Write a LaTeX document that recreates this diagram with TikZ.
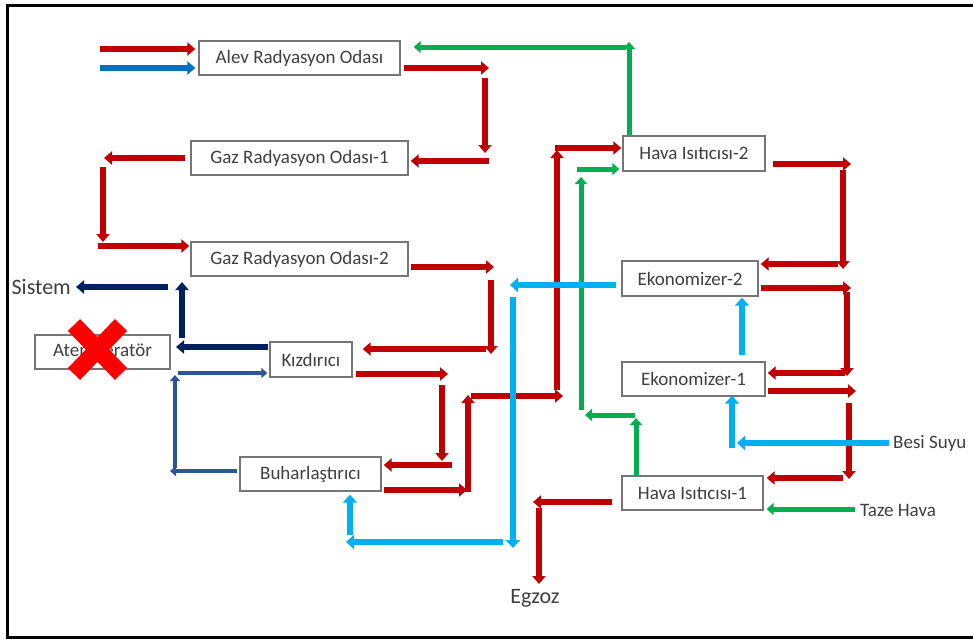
\documentclass[tikz,border=0pt]{standalone}
\usepackage{fontspec}
\setmainfont{Carlito}
\usetikzlibrary{arrows.meta}
\definecolor{cred}{HTML}{C00000}
\definecolor{cblue}{HTML}{0070C0}
\definecolor{cgreen}{HTML}{00B050}
\definecolor{clblue}{HTML}{00B0F0}
\definecolor{cnavy}{HTML}{002060}
\definecolor{cmblue}{HTML}{2F5597}
\definecolor{cxred}{HTML}{FF0000}
\definecolor{boxgray}{HTML}{767676}
\definecolor{txtgray}{HTML}{3F3F3F}
\tikzset{
  box/.style={draw=boxgray, line width=1.4pt, fill=white, text=txtgray,
    font=\fontsize{19}{22}\selectfont, inner sep=0pt, minimum height=34pt},
  lbl/.style={text=txtgray, font=\fontsize{19}{22}\selectfont, inner sep=0pt},
  biglbl/.style={text=txtgray, font=\fontsize{22}{26}\selectfont, inner sep=0pt},
  rarr/.style={draw=cred, line width=6pt, -{Triangle[length=8pt,width=13pt]}},
  barr/.style={draw=cblue, line width=6pt, -{Triangle[length=8pt,width=13pt]}},
  garr/.style={draw=cgreen, line width=5pt, -{Triangle[length=7pt,width=12pt]}},
  larr/.style={draw=clblue, line width=6.5pt, -{Triangle[length=8pt,width=14pt]}},
  narr/.style={draw=cnavy, line width=6pt, -{Triangle[length=8pt,width=13pt]}},
  marr/.style={draw=cmblue, line width=4pt, -{Triangle[length=6pt,width=10pt]}},
}
\begin{document}
\begin{tikzpicture}[x=1pt,y=-1pt]
\useasboundingbox (0,0) rectangle (973,641);
\fill[white] (0,0) rectangle (973,641);

% boxes
\node[box, minimum width=201pt] (alev)  at (299.5,58)   {Alev Radyasyon Odası};
\node[box, minimum width=217pt] (gaz1)  at (299.5,158)  {Gaz Radyasyon Odası-1};
\node[box, minimum width=217pt] (gaz2)  at (299.5,259)  {Gaz Radyasyon Odası-2};
\node[box, minimum width=135pt] (atem)  at (102.5,352)  {Atemperatör};
\node[box, minimum width=82pt, minimum height=35pt] (kiz) at (311,359.5) {Kızdırıcı};
\node[box, minimum width=141pt] (buh)   at (310.5,474)  {Buharlaştırıcı};
\node[box, minimum width=142pt, minimum height=35pt] (hava2) at (694,153.5) {Hava Isıtıcısı-2};
\node[box, minimum width=136pt, minimum height=35pt] (eko2)  at (690,278.5) {Ekonomizer-2};
\node[box, minimum width=143pt] (eko1)  at (693.5,379)  {Ekonomizer-1};
\node[box, minimum width=141pt] (hava1) at (692.5,493)  {Hava Isıtıcısı-1};

% labels
\node[biglbl, anchor=east] (sistem) at (71,287) {Sistem};
\node[lbl, anchor=west] (besi) at (893,443) {Besi Suyu};
\node[lbl, anchor=west] (taze) at (860,510) {Taze Hava};
\node[biglbl] (egzoz) at (535,598) {Egzoz};

% free points
\coordinate (r1a) at (100,49);
\coordinate (b1a) at (100,68);
\coordinate (r2b) at (489,68);
\coordinate (r3a) at (485,78);  \coordinate (r3b) at (485,153);
\coordinate (r4a) at (489,161);
\coordinate (r5b) at (104,158);
\coordinate (r6a) at (103,167); \coordinate (r6b) at (103,242);
\coordinate (r7a) at (98,246);
\coordinate (r8b) at (494,267);
\coordinate (r9a) at (491,280); \coordinate (r9b) at (491,354);
\coordinate (r10a) at (486,349);
\coordinate (r11b) at (448,374);
\coordinate (r12a) at (442,385); \coordinate (r12b) at (442,461);
\coordinate (r13a) at (452,465);
\coordinate (r14b) at (467,490);
\coordinate (r15a) at (468,492); \coordinate (r15b) at (468,395);
\coordinate (r16a) at (471,396); \coordinate (r16b) at (563,396);
\coordinate (r17a) at (557,390); \coordinate (r17b) at (557,150);
\coordinate (r18a) at (555,148);
\coordinate (r19b) at (851,164);
\coordinate (r20a) at (843,170); \coordinate (r20b) at (843,269);
\coordinate (r21a) at (838,264);
\coordinate (r22b) at (851,288);
\coordinate (r23a) at (847,292); \coordinate (r23b) at (847,376);
\coordinate (r24a) at (845,373);
\coordinate (r25b) at (856,391);
\coordinate (r26a) at (849,403); \coordinate (r26b) at (849,479);
\coordinate (r27a) at (843,478);
\coordinate (r28b) at (533,502);
\coordinate (r29a) at (539,508); \coordinate (r29b) at (539,584);
\coordinate (g1b) at (629,42);
\coordinate (g2a) at (626,47);
\coordinate (g3a) at (855,509);
\coordinate (g4b) at (636,418);
\coordinate (g5a) at (635,415); \coordinate (g5b) at (585,415);
\coordinate (g6a) at (581,410); \coordinate (g6b) at (581,177);
\coordinate (g7a) at (577,169);
\coordinate (l1a) at (889,443); \coordinate (l1b) at (737,443);
\coordinate (l2a) at (732,448);
\coordinate (l4b) at (510,285);
\coordinate (l5a) at (513,297); \coordinate (l5b) at (513,548);
\coordinate (l6a) at (503,542); \coordinate (l6b) at (346,542);
\coordinate (l7a) at (350,535);
\coordinate (n1b) at (176,347);
\coordinate (n2a) at (182,338); \coordinate (n2b) at (182,282);
\coordinate (n3a) at (168,287);
\coordinate (m1b) at (170,471);
\coordinate (m2a) at (175,468); \coordinate (m2b) at (175,375);
\coordinate (m3a) at (178,373);

% red flue gas path
\draw[rarr] (r1a) -- ([xshift=-3pt,yshift=9pt]alev.west);
\draw[barr] (b1a) -- ([xshift=-3pt,yshift=-10pt]alev.west);
\draw[rarr] ([xshift=3pt,yshift=-10pt]alev.east) -- (r2b);
\draw[rarr] (r3a) -- (r3b);
\draw[rarr] (r4a) -- ([xshift=2pt,yshift=-3pt]gaz1.east);
\draw[rarr] ([xshift=-5pt]gaz1.west) -- (r5b);
\draw[rarr] (r6a) -- (r6b);
\draw[rarr] (r7a) -- ([xshift=-1pt,yshift=13pt]gaz2.west);
\draw[rarr] ([xshift=2pt,yshift=-8pt]gaz2.east) -- (r8b);
\draw[rarr] (r9a) -- (r9b);
\draw[rarr] (r10a) -- ([xshift=10pt,yshift=10.5pt]kiz.east);
\draw[rarr] ([xshift=3pt,yshift=-14.5pt]kiz.east) -- (r11b);
\draw[rarr] (r12a) -- (r12b);
\draw[rarr] (r13a) -- ([xshift=2pt,yshift=9pt]buh.east);
\draw[rarr] ([xshift=2pt,yshift=-16pt]buh.east) -- (r14b);
\draw[rarr] (r15a) -- (r15b);
\draw[rarr] (r16a) -- (r16b);
\draw[rarr] (r17a) -- (r17b);
\draw[rarr] (r18a) -- ([xshift=-1pt,yshift=5.5pt]hava2.west);
\draw[rarr] ([xshift=7pt,yshift=-10.5pt]hava2.east) -- (r19b);
\draw[rarr] (r20a) -- (r20b);
\draw[rarr] (r21a) -- ([xshift=2pt,yshift=14.5pt]eko2.east);
\draw[rarr] ([xshift=2pt,yshift=-9.5pt]eko2.east) -- (r22b);
\draw[rarr] (r23a) -- (r23b);
\draw[rarr] (r24a) -- ([xshift=2pt,yshift=6pt]eko1.east);
\draw[rarr] ([xshift=2pt,yshift=-12pt]eko1.east) -- (r25b);
\draw[rarr] (r26a) -- (r26b);
\draw[rarr] (r27a) -- ([xshift=3pt,yshift=15pt]hava1.east);
\draw[rarr] ([xshift=-9pt,yshift=-9pt]hava1.west) -- (r28b);
\draw[rarr] (r29a) -- (r29b);

% green air path
\draw[garr] ([xshift=-65pt]hava2.north) -- (g1b);
\draw[garr] (g2a) -- ([xshift=13pt,yshift=11pt]alev.east);
\draw[garr] (g3a) -- ([xshift=3pt,yshift=-16pt]hava1.east);
\draw[garr] ([xshift=-56.5pt]hava1.north) -- (g4b);
\draw[garr] (g5a) -- (g5b);
\draw[garr] (g6a) -- (g6b);
\draw[garr] (g7a) -- ([xshift=-3pt,yshift=-15.5pt]hava2.west);

% light blue water path
\draw[larr] (l1a) -- (l1b);
\draw[larr] (l2a) -- ([xshift=38.5pt,yshift=1pt]eko1.south);
\draw[larr] ([xshift=48.5pt,yshift=6pt]eko1.north) -- ([xshift=52pt,yshift=-1pt]eko2.south);
\draw[larr] ([xshift=-5pt,yshift=-6.5pt]eko2.west) -- (l4b);
\draw[larr] (l5a) -- (l5b);
\draw[larr] (l6a) -- (l6b);
\draw[larr] (l7a) -- ([xshift=39.5pt,yshift=-3pt]buh.south);

% navy steam path
\draw[narr] ([xshift=-1pt,yshift=12.5pt]kiz.west) -- (n1b);
\draw[narr] (n2a) -- (n2b);
\draw[narr] (n3a) -- ([xshift=5pt]sistem.east);

% medium blue path
\draw[marr] ([xshift=-2pt,yshift=3pt]buh.west) -- (m1b);
\draw[marr] (m2a) -- (m2b);
\draw[marr] (m3a) -- ([xshift=-2pt,yshift=-13.5pt]kiz.west);

% red cross over Atemperator
\draw[cxred, line width=17pt] (74,325) -- (121,374);
\draw[cxred, line width=17pt] (121,325) -- (74,374);

% frame
\draw[black, line width=3pt] (973,5.5) -- (7.5,5.5) -- (7.5,637.5) -- (973,637.5);
\end{tikzpicture}
\end{document}
